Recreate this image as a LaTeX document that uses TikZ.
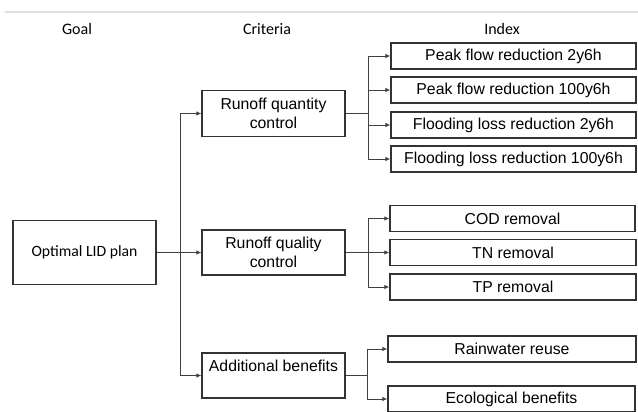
\documentclass[tikz,border=0pt]{standalone}
\usepackage{fontspec}
\setmainfont{Liberation Sans}
\newfontfamily\calibri{Carlito}
\usetikzlibrary{arrows.meta,positioning}

\begin{document}
\begin{tikzpicture}[x=1pt,y=-1pt,
    box/.style={draw=black!80,line width=1.3pt,align=center,inner sep=0pt,
      font=\fontsize{15.8}{19}\selectfont},
    crit/.style={box,minimum width=143pt,minimum height=45pt},
    idx/.style={box,minimum height=26pt},
    conn/.style={draw=black!75,line width=0.9pt},
    arr/.style={conn,-{Latex[length=5pt,width=4.5pt]}},
    head/.style={font=\calibri\fontsize{16}{19}\selectfont}]
    \useasboundingbox (0,0) rectangle (638,412);

    % Headers
    \draw[black!12,line width=1.5pt] (5,12) -- (638,12);
    \node[head] (hgoal) at (77,29) {Goal};
    \node[head] (hcrit) at (267,29) {Criteria};
    \node[head] (hidx) at (502,29) {Index};

    % Goal
    \node[box,font=\calibri\fontsize{15.7}{19}\selectfont,
      minimum width=143pt,minimum height=64pt] (goal) at (84.5,252.5) {Optimal LID plan};

    % Criteria
    \node[crit,minimum height=46pt] (qty) at (273.5,113.5) {Runoff quantity\\control};
    \node[crit] (qual) at (273.5,252.5) {Runoff quality\\control};
    \node[crit] (add) at (273.5,375.5) {Additional benefits\\\mbox{}};

    % Index
    \foreach \x/\w/\y/\name/\txt in {
        513.5/245/56/i1/Peak flow reduction 2y6h,
        513.5/245/90/i2/Peak flow reduction 100y6h,
        513.5/245/125/i3/Flooding loss reduction 2y6h,
        513.5/245/159/i4/Flooding loss reduction 100y6h,
        512.5/245/218.5/i5/COD removal,
        513/246/252.5/i6/TN removal,
        513/246/287/i7/TP removal,
        512/248/349/i8/Rainwater reuse,
        511.5/247/399/i9/Ecological benefits} {
        \node[idx,minimum width=\w pt] (\name) at (\x,\y) {\txt};
    }

    % Goal to criteria
    \coordinate (trunk) at (180,0);
    \draw[conn] (trunk |- qty.west) -- (trunk |- add.west);
    \draw[arr] (goal.east) -- (qual.west);
    \foreach \c in {qty,add} {
        \draw[arr] (trunk |- \c.west) -- (\c.west);
    }

    % Criteria to index
    \coordinate (bqty) at (368,0);
    \coordinate (badd) at (367,0);
    \draw[conn] (qty.east) -- (bqty |- qty.east);
    \draw[conn] (bqty |- i1.west) -- (bqty |- i4.west);
    \foreach \i in {1,...,4} {
        \draw[arr] (bqty |- i\i.west) -- (i\i.west);
    }
    \draw[conn] (qual.east) -- (bqty |- qual.east);
    \draw[conn] (bqty |- i5.west) -- (bqty |- i7.west);
    \foreach \i in {5,6,7} {
        \draw[arr] (bqty |- i\i.west) -- (i\i.west);
    }
    \draw[conn] (add.east) -- (badd |- add.east);
    \draw[conn] (badd |- i8.west) -- (badd |- i9.west);
    \foreach \i in {8,9} {
        \draw[arr] (badd |- i\i.west) -- (i\i.west);
    }
\end{tikzpicture}
\end{document}
